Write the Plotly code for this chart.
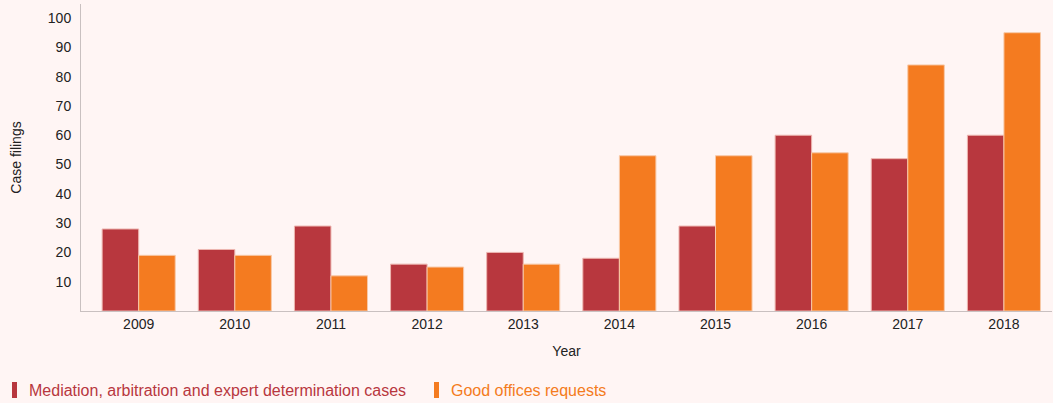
import plotly.graph_objects as go

years = ["2009", "2010", "2011", "2012", "2013", "2014", "2015", "2016", "2017", "2018"]
mediation = [28, 21, 29, 16, 20, 18, 29, 60, 52, 60]
good_offices = [19, 19, 12, 15, 16, 53, 53, 54, 84, 95]
series_names = ["Mediation, arbitration and expert determination cases", "Good offices requests"]
y_ticks = [10, 20, 30, 40, 50, 60, 70, 80, 90, 100]

RED = "#B8373E"
ORANGE = "#F47B20"
BG = "#FFF5F4"
FONT = "Liberation Sans, Arial, sans-serif"

fig = go.Figure()
fig.add_trace(go.Bar(x=years, y=mediation, name=series_names[0],
                     marker=dict(color=RED, line=dict(color="#EDB6B0", width=1))))
fig.add_trace(go.Bar(x=years, y=good_offices, name=series_names[1],
                     marker=dict(color=ORANGE, line=dict(color="#F7C9A8", width=1))))

fig.update_layout(
    width=1053, height=403,
    paper_bgcolor=BG, plot_bgcolor=BG,
    margin=dict(l=81, r=1, t=4, b=92),
    barmode="group", bargap=0.24, bargroupgap=0,
    showlegend=False,
    font=dict(family=FONT, size=14, color="#222"),
)
fig.update_xaxes(
    type="category", range=[-0.6, 9.5],
    showline=True, linecolor="#C9C0C0", linewidth=1,
    showgrid=False, ticks="", tickfont=dict(size=14, color="#222"),
    title=dict(text="Year", font=dict(size=14, color="#222"), standoff=15),
)
fig.update_yaxes(
    range=[0, 104.8], tickvals=y_ticks,
    showline=True, linecolor="#C9C0C0", linewidth=1,
    showgrid=False, zeroline=False, ticks="", ticklabelstandoff=6,
    tickfont=dict(size=14, color="#222"),
    title=dict(text="Case filings", font=dict(size=14, color="#222"), standoff=22),
)

# custom legend
legend_items = [(series_names[0], RED, 12), (series_names[1], ORANGE, 434)]
for name, col, xpx in legend_items:
    fig.add_shape(type="rect", xref="paper", yref="paper",
                  x0=(xpx - 81) / 971, x1=(xpx + 5 - 81) / 971,
                  y0=(311 - 398) / 307, y1=(311 - 382) / 307,
                  fillcolor=col, line=dict(width=0))
    fig.add_annotation(text=name, xref="paper", yref="paper",
                       x=(xpx + 15 - 81) / 971, y=(311 - 390) / 307,
                       xanchor="left", yanchor="middle", showarrow=False,
                       font=dict(size=16, color=col, family=FONT))

fig.write_html(
    "out.html",
    config={"displayModeBar": False},
    post_script="document.body.style.margin='0';document.body.style.background='" + BG + "';",
)
